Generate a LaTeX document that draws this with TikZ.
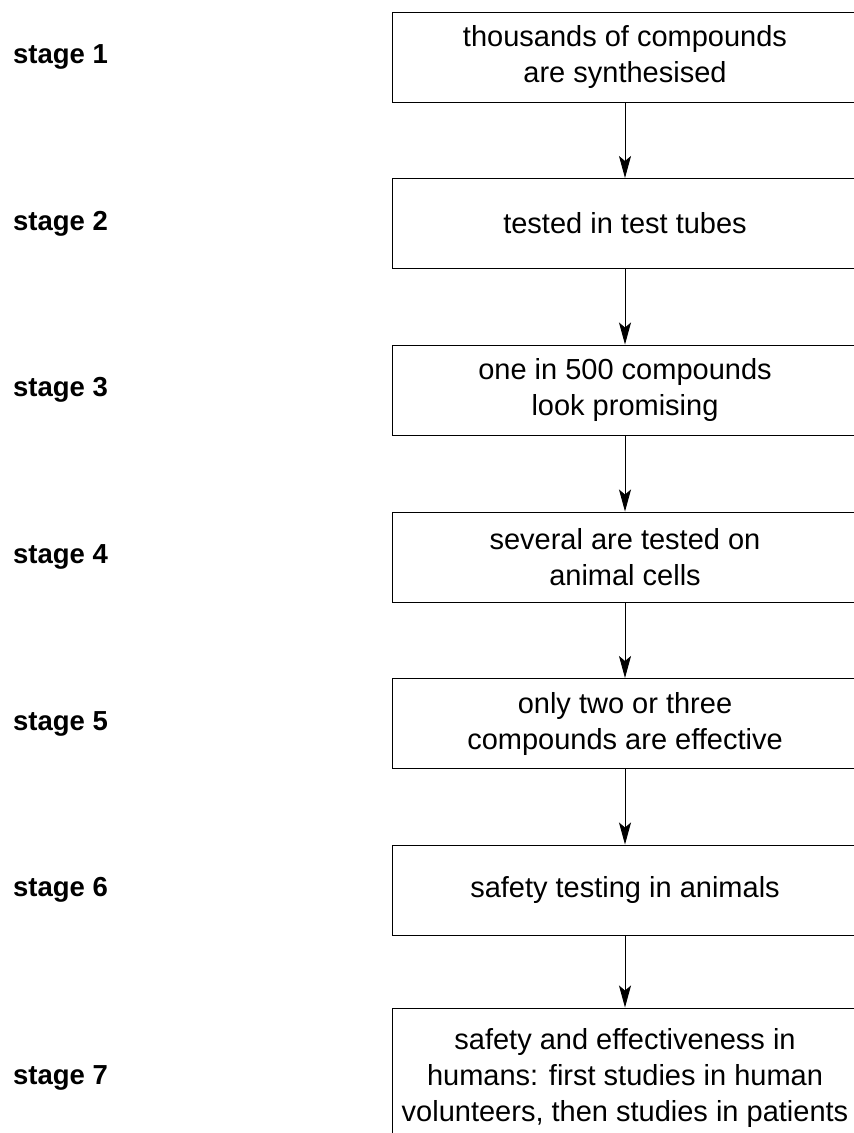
\documentclass[tikz,border=0pt]{standalone}
\usepackage{fontspec}
\setmainfont{Liberation Sans}
\usetikzlibrary{arrows.meta}
\begin{document}
\begin{tikzpicture}[x=1pt,y=-1pt,
  stagebox/.style={draw=black,line width=1pt,minimum width=466pt,minimum height=90pt,inner sep=0pt,align=center,font=\fontsize{29}{36}\selectfont},
  stagelabel/.style={anchor=west,inner sep=0pt,font=\fontsize{27.5}{33}\selectfont\bfseries},
  flow/.style={-{Stealth[length=22pt,width=12pt,inset=5pt]},line width=0.9pt}]
\clip (0,0) rectangle (854,1133);
\node[stagebox] (b1) at (625,57) {thousands of compounds\\are synthesised};
\node[stagebox] (b2) at (625,223.5) {tested in test tubes};
\node[stagebox] (b3) at (625,390) {one in 500 compounds\\look promising};
\node[stagebox] (b4) at (625,557) {several are tested on\\animal cells};
\node[stagebox] (b5) at (625,723.5) {only two or three\\compounds are effective};
\node[stagebox] (b6) at (625,890) {safety testing in animals};
\node[stagebox,minimum height=140pt] (b7) at (625,1078) {safety and effectiveness in\\humans: first studies in human\\volunteers, then studies in patients};
\node[stagelabel] (s1) at (13,57) {stage 1};
\node[stagelabel] (s2) at (13,223.5) {stage 2};
\node[stagelabel] (s3) at (13,390) {stage 3};
\node[stagelabel] (s4) at (13,557) {stage 4};
\node[stagelabel] (s5) at (13,723.5) {stage 5};
\node[stagelabel] (s6) at (13,890) {stage 6};
\node[stagelabel] (s7) at (13,1078) {stage 7};
\draw[flow] (b1) -- (b2);
\draw[flow] (b2) -- (b3);
\draw[flow] (b3) -- (b4);
\draw[flow] (b4) -- (b5);
\draw[flow] (b5) -- (b6);
\draw[flow] (b6) -- (b7);
\end{tikzpicture}
\end{document}
